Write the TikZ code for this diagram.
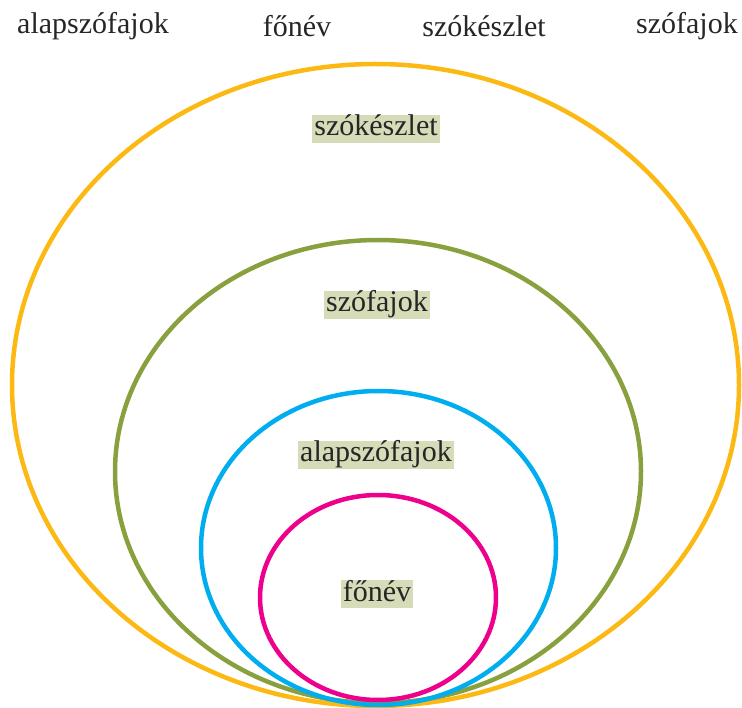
\documentclass[tikz,border=0pt]{standalone}
\usepackage{fontspec}
\setmainfont{Liberation Serif}
\definecolor{cOrange}{RGB}{253,185,19}
\definecolor{cGreen}{RGB}{137,160,62}
\definecolor{cBlue}{RGB}{0,174,239}
\definecolor{cMagenta}{RGB}{236,0,140}
\definecolor{cLabel}{RGB}{214,219,184}
\tikzset{
  ring/.style={line width=4.5pt},
  toplabel/.style={font=\fontsize{30}{34}\selectfont, inner sep=0pt, text=black!85},
  tag/.style={font=\fontsize{30}{34}\selectfont, fill=cLabel, inner xsep=2pt, inner ysep=1pt, text height=20pt, text depth=6pt, text=black!85}
}
\begin{document}
\begin{tikzpicture}[x=1pt,y=-1pt]
\useasboundingbox (0,0) rectangle (742,708);
\draw[ring, cOrange] (375.5,385) ellipse [x radius=363.5, y radius=321];
\draw[ring, cGreen] (378,471.5) ellipse [x radius=263, y radius=231.5];
\draw[ring, cBlue] (378.5,548) ellipse [x radius=177.5, y radius=157];
\draw[ring, cMagenta] (378,597.5) ellipse [x radius=118, y radius=102.5];
\node[toplabel] (t1) at (93,26) {alapszófajok};
\node[toplabel] (t2) at (297,26) {főnév};
\node[toplabel] (t3) at (484,26) {szókészlet};
\node[toplabel] (t4) at (687,26) {szófajok};
\node[tag] (l1) at (376,129) {szókészlet};
\node[tag] (l2) at (377,305) {szófajok};
\node[tag] (l3) at (376,455) {alapszófajok};
\node[tag] (l4) at (377,594) {főnév};
\end{tikzpicture}
\end{document}
